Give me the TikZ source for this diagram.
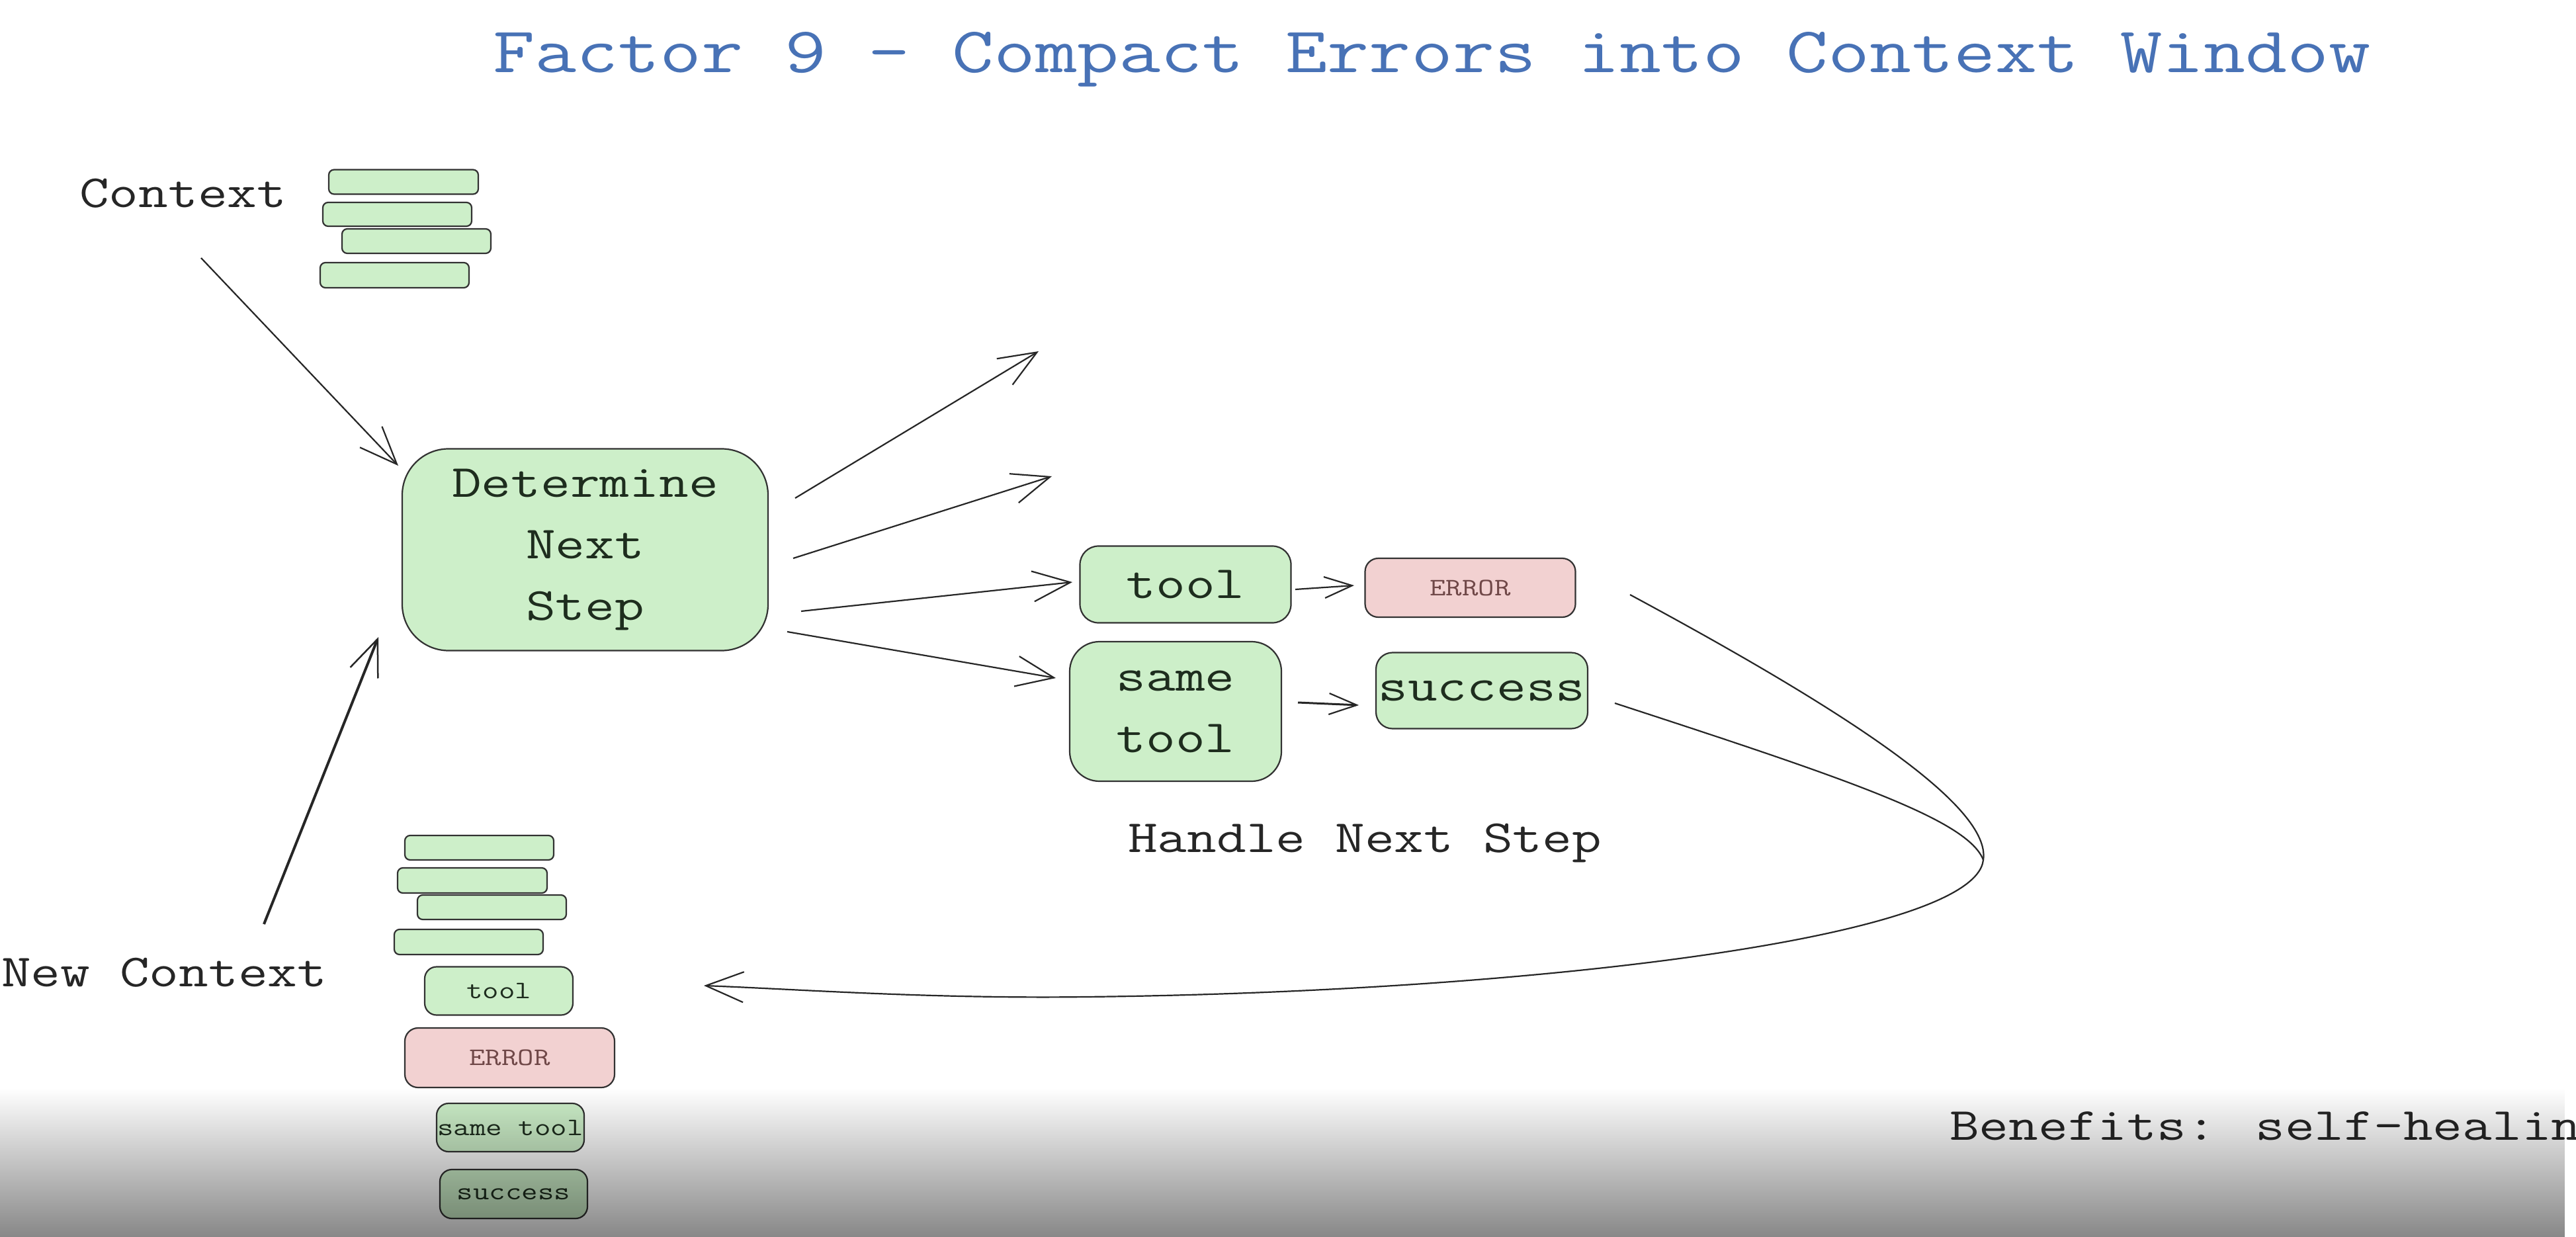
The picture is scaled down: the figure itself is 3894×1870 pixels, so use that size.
\documentclass[tikz,border=0pt]{standalone}
\usepackage{fontspec}
\setmainfont{Latin Modern Mono}[FakeStretch=1.25]
\usetikzlibrary{arrows.meta,fadings,calc}
\definecolor{boxgreen}{RGB}{205,239,201}
\definecolor{boxpink}{RGB}{242,209,209}
\definecolor{edgegray}{RGB}{50,50,50}
\definecolor{titleblue}{RGB}{72,114,182}
\definecolor{intext}{RGB}{30,45,30}
\definecolor{errtext}{RGB}{112,72,72}
\tikzfading[name=fadedown, top color=transparent!100, bottom color=transparent!53]
\tikzset{
  bigfont/.style={font=\fontsize{69.5}{93}\selectfont},
  smallfont/.style={font=\fontsize{38}{46}\selectfont},
  label/.style={inner sep=0pt, anchor=base west, text=black!85, bigfont},
  gbox/.style={draw=edgegray, line width=2.2pt, fill=boxgreen, inner sep=0pt, text=intext, align=center},
  pbox/.style={draw=edgegray, line width=2.2pt, fill=boxpink, inner sep=0pt, text=errtext, align=center},
  bar/.style={gbox, rounded corners=8pt},
  conn/.style={draw=black!85, line width=2.2pt},
  arr/.style={conn, -{Straight Barb[length=57pt,width=46pt,line width=2.2pt]}},
  arrsmall/.style={conn, -{Straight Barb[length=42pt,width=32pt,line width=2.2pt]}}
}
\begin{document}
\begin{tikzpicture}[x=1pt,y=-1pt]
\useasboundingbox (0,0) rectangle (3894,1870);
\fill[white] (0,0) rectangle (3894,1870);

% title
\node[inner sep=0pt, anchor=base west, text=titleblue, font=\fontsize{98}{118}\selectfont] (title) at (745,110) {Factor 9 - Compact Errors into Context Window};

% context label and bars
\node[label] (ctxlabel) at (120,313) {Context};
\node[bar, minimum width=226pt, minimum height=37pt] (c1) at (610,275) {};
\node[bar, minimum width=225pt, minimum height=36pt] (c2) at (600.5,324) {};
\node[bar, minimum width=225pt, minimum height=37pt] (c3) at (629.5,364.5) {};
\node[bar, minimum width=225pt, minimum height=38pt] (c4) at (596.5,416) {};

% determine next step
\node[gbox, bigfont, rounded corners=70pt, minimum width=553pt, minimum height=305pt] (det) at (884.5,831) {Determine\\Next\\Step};

% handle boxes
\node[gbox, bigfont, rounded corners=28pt, minimum width=319pt, minimum height=116pt] (tool) at (1792,883.5) {tool};
\node[pbox, smallfont, rounded corners=20pt, minimum width=318pt, minimum height=89pt] (err) at (2222.5,888.5) {ERROR};
\node[gbox, bigfont, rounded corners=45pt, minimum width=320pt, minimum height=211pt] (same) at (1777,1075.5) {same\\tool};
\node[gbox, bigfont, rounded corners=25pt, minimum width=320pt, minimum height=115pt] (succ) at (2240,1044) {success};
\node[label] (handle) at (1705,1288) {Handle Next Step};

% new context stack
\node[label] (newctx) at (2,1491) {New Context};
\node[bar, minimum width=225pt, minimum height=37pt] (b1) at (724.5,1281.5) {};
\node[bar, minimum width=226pt, minimum height=38pt] (b2) at (714,1331) {};
\node[bar, minimum width=225pt, minimum height=37pt] (b3) at (743.5,1371.5) {};
\node[bar, minimum width=225pt, minimum height=38pt] (b4) at (708.5,1424) {};
\node[gbox, smallfont, rounded corners=18pt, minimum width=224pt, minimum height=73pt] (btool) at (754,1498) {tool};
\node[pbox, smallfont, rounded corners=20pt, minimum width=317pt, minimum height=90pt] (berr) at (770.5,1599) {ERROR};
\node[gbox, smallfont, rounded corners=18pt, minimum width=223pt, minimum height=73pt] (bsame) at (771.5,1704.5) {same tool};
\node[gbox, smallfont, rounded corners=18pt, minimum width=223pt, minimum height=74pt] (bsucc) at (776.5,1805) {success};

% benefits (cut at the right edge, as in the reference)
\begin{scope}
\clip (0,0) rectangle (3894,1870);
\node[label] (benefits) at (2947,1723) {Benefits: self-healing};
\end{scope}

% connector end points
\coordinate (ctxfrom) at (304,390);
\coordinate (dettip) at (602,704);
\coordinate (a1s) at (1202,753);
\coordinate (a1e) at (1570,531);
\coordinate (a2s) at (1199,844);
\coordinate (a2e) at (1590,720);
\coordinate (a3s) at (1211,924);
\coordinate (a3e) at (1621,880);
\coordinate (a4s) at (1190,955);
\coordinate (a4e) at (1596,1025);
\coordinate (te1) at (1958,891);
\coordinate (te2) at (2047,885);
\coordinate (ss1) at (1962,1062);
\coordinate (ss2) at (2054,1066);
\coordinate (errout) at (2464,899);
\coordinate (succout) at (2441,1063);
\coordinate (apex) at (2998,1300);
\coordinate (low) at (1640,1507);
\coordinate (backtip) at (1064,1490);
\coordinate (ncfrom) at (399,1397);
\coordinate (nctip) at (572,963);

% connectors
\draw[arr] (ctxfrom) -- (dettip);
\draw[arr] (a1s) -- (a1e);
\draw[arr] (a2s) -- (a2e);
\draw[arr] (a3s) -- (a3e);
\draw[arr] (a4s) -- (a4e);
\draw[arrsmall] (te1) -- (te2);
\draw[arrsmall, line width=3pt] (ss1) -- (ss2);
\draw[conn] (succout) .. controls (2800,1180) and (2975,1240) .. (apex);
\draw[arr] (errout) .. controls (2800,1080) and (3010,1220) .. (apex)
   .. controls (2985,1420) and (2300,1500) .. (low)
   .. controls (1400,1510) and (1200,1495) .. (backtip);
\draw[conn, line width=4pt, -{Straight Barb[length=55pt,width=45pt,line width=2.5pt]}] (ncfrom) -- (nctip);

% bottom fade
\fill[black, path fading=fadedown] (0,1645) rectangle (3894,1870);
\end{tikzpicture}
\end{document}
